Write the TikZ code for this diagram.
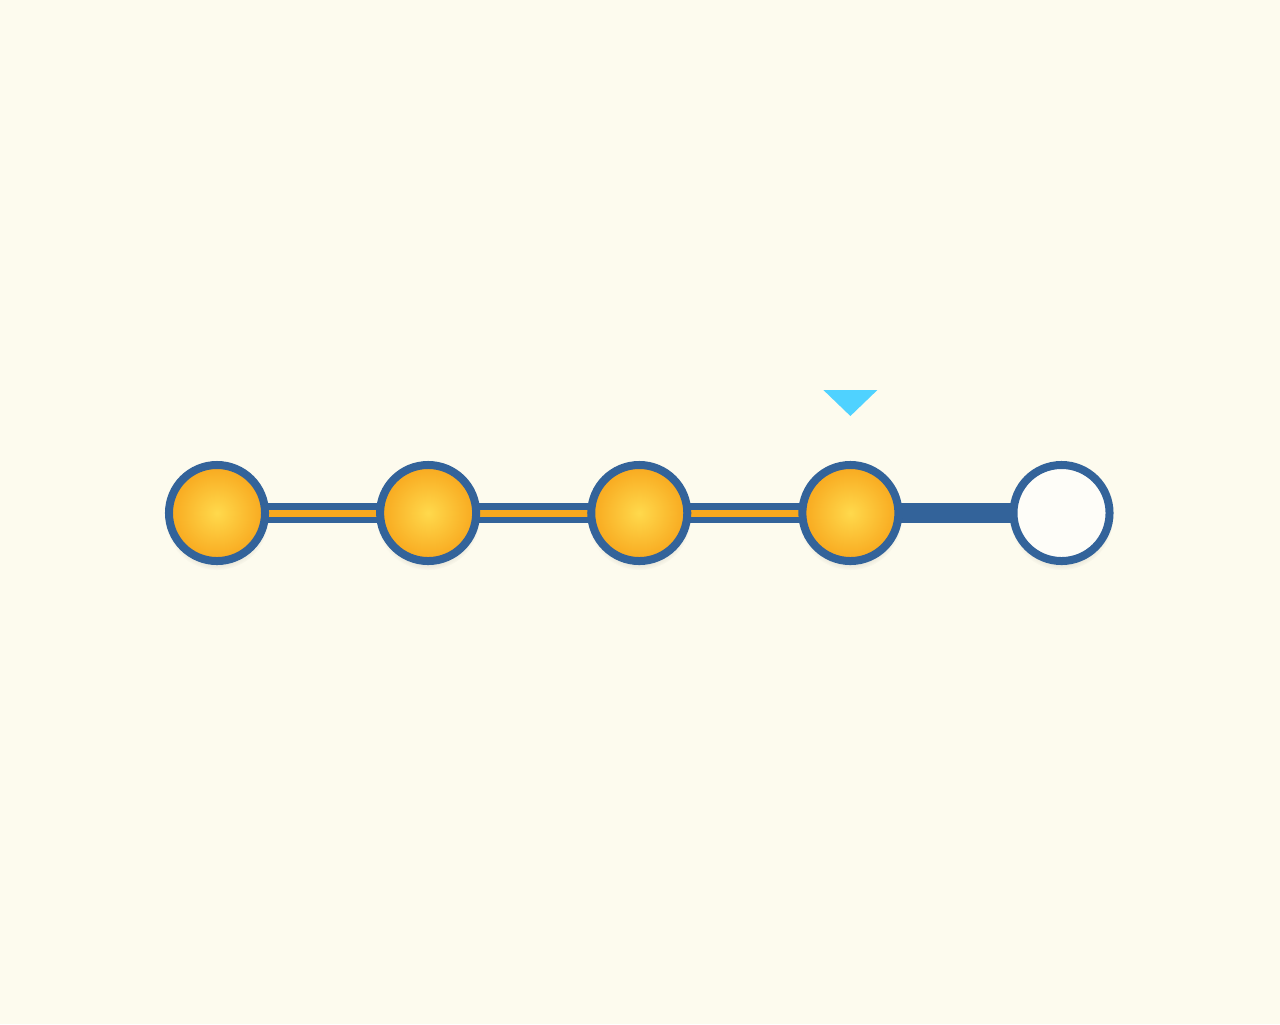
\documentclass[tikz,border=0pt]{standalone}
\usetikzlibrary{positioning,shadows,calc}
\definecolor{paper}{HTML}{FDFBEE}
\definecolor{rim}{HTML}{33639A}
\definecolor{goldin}{HTML}{FFD94C}
\definecolor{goldout}{HTML}{F8A81E}
\definecolor{pointer}{HTML}{4FD2FF}
\pgfdeclarelayer{back}
\pgfdeclarelayer{links}
\pgfsetlayers{back,links,main}

\begin{document}
\begin{tikzpicture}[
    x=0.01cm, y=-0.01cm,
    % --- Node styles ---
    stepnode/.style={circle, draw=rim, line width=0.08cm, minimum size=0.96cm, inner sep=0pt,
      circular drop shadow={shadow xshift=0pt, shadow yshift=-0.05cm, shadow scale=1.08, fill=black, opacity=0.10}},
    done/.style={stepnode, inner color=goldin, outer color=goldout},
    todo/.style={stepnode, fill=white!60!paper},
    % --- Link styles ---
    link/.style={draw=rim, line width=0.2cm},
    donelink/.style={link, postaction={draw=goldout, line width=0.07cm}},
    marker/.style={fill=pointer},
]

% === Background ===
\begin{pgfonlayer}{back}
  \fill[paper] (0,0) rectangle (1280,1024);
\end{pgfonlayer}

% === The steps ===
\node[done] (s1) at (217,513) {};
\node[done, right=1.07cm of s1] (s2) {};
\node[done, right=1.07cm of s2] (s3) {};
\node[done, right=1.07cm of s3] (s4) {};
\node[todo, right=1.07cm of s4] (s5) {};

% === Links between steps ===
\begin{pgfonlayer}{links}
  \foreach \a/\b in {s1/s2, s2/s3, s3/s4}
    \path[donelink] (\a.center) -- (\b.center);
  \path[link] (s4.center) -- (s5.center);
\end{pgfonlayer}

% === Current step marker ===
\path (s4) ++(0,-97) coordinate (tip);
\fill[marker] (tip) -- ++(-27,-26) -- ++(54,0) -- cycle;

\end{tikzpicture}
\end{document}
